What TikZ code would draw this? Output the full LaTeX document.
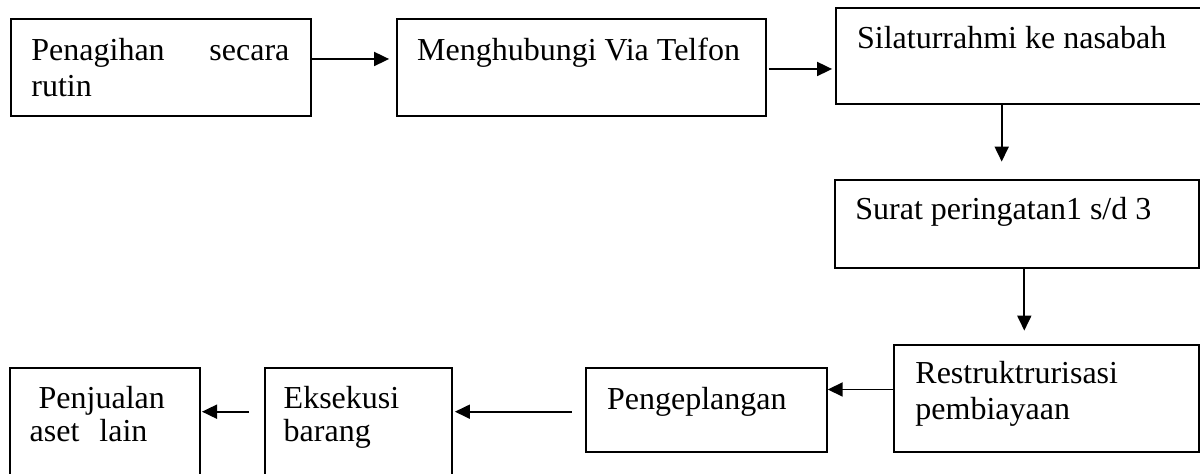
\documentclass[tikz,border=0pt]{standalone}
\usepackage{fontspec}
\setmainfont{Liberation Serif}
\usetikzlibrary{arrows.meta,fit}
\begin{document}
\begin{tikzpicture}[x=0.5pt,y=-0.5pt,
  box/.style={draw, line width=1pt, inner sep=0pt},
  lbl/.style={inner sep=0pt, anchor=base west, font=\fontsize{16pt}{18.5pt}\selectfont},
  arr/.style={line width=0.9pt, -{Triangle[length=7.5pt,width=7pt]}}]
\useasboundingbox (0,0) rectangle (1200,474);
% boxes
\node[box, fit={(10.7,19) (310.7,115.7)}] (b1) {};
\node[box, fit={(396.7,19) (765.7,115.7)}] (b2) {};
\node[box, fit={(835.7,8) (1203,104.3)}] (b3) {};
\node[box, fit={(835,180) (1199.3,268)}] (b4) {};
\node[box, fit={(894.3,345) (1199.3,452.3)}] (b5) {};
\node[box, fit={(586,368.3) (826.7,452.3)}] (b6) {};
\node[box, fit={(265,368.3) (452.3,480)}] (b7) {};
\node[box, fit={(10,368.3) (200,480)}] (b8) {};
% texts
\node[lbl] (t1a) at (31,60.5) {\hbox to 129pt{Penagihan\hfill secara}};
\node[lbl] (t1b) at (31,97) {rutin};
\node[lbl] (t2) at (416.7,61) {Menghubungi Via Telfon};
\node[lbl] (t3) at (856.7,48.3) {Silaturrahmi ke nasabah};
\node[lbl] (t4) at (855,220) {Surat peringatan1 s/d 3};
\node[lbl] (t5a) at (915,383.3) {Restruktrurisasi};
\node[lbl] (t5b) at (915,420) {pembiayaan};
\node[lbl] (t6) at (606.7,409.3) {Pengeplangan};
\node[lbl] (t7a) at (283.3,408.3) {Eksekusi};
\node[lbl] (t7b) at (283.3,441.7) {barang};
\node[lbl] (t8a) at (38.3,408.3) {Penjualan};
\node[lbl] (t8b) at (29.3,441.7) {aset\hspace{10pt}lain};
% connectors
\draw[arr, shorten >=3.3pt] (b1.east |- 0,59) -- (b2.west |- 0,59);
\draw[arr, shorten <=1.1pt, shorten >=1.3pt] (b2.east |- 0,69) -- (b3.west |- 0,69);
\draw[arr, shorten >=8.7pt] (b3.south -| 1001.7,0) -- (b4.north -| 1001.7,0);
\draw[arr, shorten >=6.7pt] (b4.south -| 1024.3,0) -- (b5.north -| 1024.3,0);
\draw[arr] (b5.west |- 0,389.5) -- (b6.east |- 0,389.5);
\draw[arr, shorten <=6.7pt, shorten >=0.8pt] (b6.west |- 0,411.7) -- (b7.east |- 0,411.7);
\draw[arr, shorten <=7.5pt, shorten >=0.5pt] (b7.west |- 0,411.7) -- (b8.east |- 0,411.7);
\end{tikzpicture}
\end{document}
